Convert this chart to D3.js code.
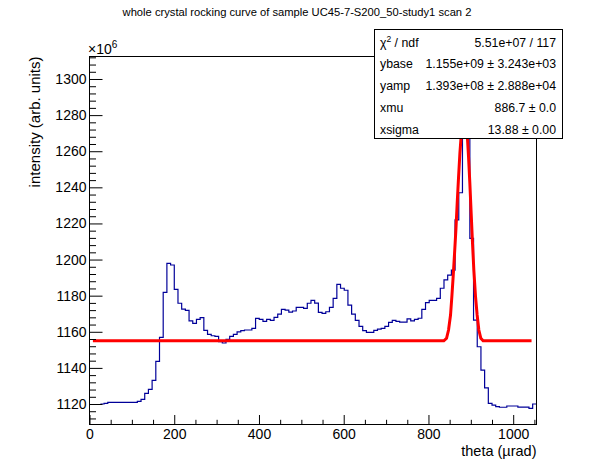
<!DOCTYPE html>
<html>
	<head>
		<meta charset="utf-8">
		<script src="https://d3js.org/d3.v7.min.js"></script>
		<style>
			body { margin: 0; background: #fff; }
			text { font-family: "Liberation Sans", Arial, Helvetica, sans-serif; }
		</style>
	</head>
	<body>
		<script>
			// histogram: 118 bins, contents in units of 1e6
			var thetaLow = 25.7, binWidth = 8.72;
			var counts = [
				1120.0, 1120.4, 1120.9, 1120.9, 1120.9, 1120.9, 1120.9, 1120.9, 1120.9, 1120.9,
				1121.5, 1122.6, 1125.9, 1128.1, 1133.1, 1143.6, 1156.9, 1181.8, 1197.9, 1197.0,
				1183.5, 1175.8, 1172.6, 1171.9, 1166.0, 1164.7, 1166.9, 1167.8, 1160.8, 1158.6,
				1157.8, 1157.5, 1154.5, 1153.8, 1155.8, 1157.5, 1158.6, 1159.9, 1160.6, 1161.0,
				1161.0, 1161.9, 1167.4, 1166.9, 1165.8, 1166.9, 1166.3, 1168.0, 1169.8, 1172.4,
				1172.0, 1170.9, 1171.5, 1173.5, 1173.5, 1173.0, 1175.8, 1177.4, 1175.9, 1170.8,
				1170.2, 1171.1, 1173.5, 1178.5, 1186.3, 1184.1, 1183.0, 1174.8, 1169.8, 1166.3,
				1163.0, 1160.6, 1159.7, 1159.7, 1160.8, 1161.5, 1161.9, 1163.0, 1165.2, 1166.3,
				1165.8, 1165.4, 1165.4, 1167.1, 1166.0, 1166.9, 1167.5, 1172.4, 1176.1, 1177.4,
				1177.4, 1178.5, 1184.1, 1188.7, 1191.4, 1194.2, 1222.0, 1237.0, 1290.0, 1282.0,
				1211.7, 1166.5, 1151.7, 1138.8, 1128.9, 1120.4, 1119.4, 1118.6, 1118.2, 1118.2,
				1118.9, 1118.9, 1118.9, 1118.3, 1118.3, 1118.3, 1117.6, 1120.0
			];

			// fitted curve, points
			var fitTheta = [8.0, 836.3, 842.7, 847.4, 852.1, 855.2, 858.3, 861.6, 864.7, 867.8,
				871.1, 874.2, 876.6, 882.0, 887.0, 891.0, 892.2, 894.6, 897.7, 900.8,
				904.0, 907.1, 911.1, 914.9, 918.9, 923.6, 929.0, 1043.3];
			var fitValue = [1155.0, 1155.0, 1156.4, 1161.0, 1169.3, 1179.4, 1190.5, 1203.4, 1216.3, 1231.1,
				1245.9, 1258.8, 1266.6, 1289.0, 1294.3, 1290.0, 1266.6, 1256.9, 1242.2, 1225.6,
				1209.0, 1194.2, 1179.4, 1169.3, 1161.0, 1156.4, 1155.0, 1155.0];

			var xTicks = [0, 200, 400, 600, 800, 1000];
			var yTicks = [1120, 1140, 1160, 1180, 1200, 1220, 1240, 1260, 1280, 1300];

			var statNames = ["χ2 / ndf", "ybase", "yamp", "xmu", "xsigma"];
			var statValues = ["5.51e+07 / 117", "1.155e+09 ± 3.243e+03", "1.393e+08 ± 2.888e+04",
				"886.7 ± 0.0", "13.88 ± 0.00"];

			var titleText = "whole crystal rocking curve of sample UC45-7-S200_50-study1 scan 2";

			var width = 596, height = 472;
			var frameL = 89.5, frameR = 536.5, frameT = 56.5, frameB = 424.5;

			var svg = d3.select("body").append("svg")
				.attr("width", width)
				.attr("height", height);

			svg.append("rect").attr("width", width).attr("height", height).attr("fill", "#fff");

			var x = d3.scaleLinear().domain([0, 1055]).range([frameL, frameR]);
			var y = d3.scaleLinear().domain([1108.65, 1312.46]).range([frameB, frameT]);

			svg.append("defs").append("clipPath").attr("id", "frame")
				.append("rect")
				.attr("x", frameL).attr("y", frameT)
				.attr("width", frameR - frameL).attr("height", frameB - frameT);

			var plot = svg.append("g").attr("clip-path", "url(#frame)");

			// histogram as a step line
			var steps = [];
			counts.forEach(function(c, i){
				steps.push([thetaLow + i * binWidth, c]);
				steps.push([thetaLow + (i + 1) * binWidth, c]);
			});
			var line = d3.line().x(function(d){ return x(d[0]); }).y(function(d){ return y(d[1]); });

			plot.append("path")
				.attr("d", line(steps))
				.attr("fill", "none")
				.attr("stroke", "#000099")
				.attr("stroke-width", 1.2);

			plot.append("path")
				.attr("d", line(fitTheta.map(function(t, i){ return [t, fitValue[i]]; })))
				.attr("fill", "none")
				.attr("stroke", "#ff0000")
				.attr("stroke-width", 3);

			// frame
			svg.append("rect")
				.attr("x", frameL).attr("y", frameT)
				.attr("width", frameR - frameL).attr("height", frameB - frameT)
				.attr("fill", "none").attr("stroke", "#000").attr("stroke-width", 1);

			// axes, ticks pointing inside like ROOT
			var yMinor = d3.range(1112, 1313, 4).filter(function(v){ return v % 20 !== 0; });
			var xMinor = d3.range(50, 1055, 50).filter(function(v){ return v % 200 !== 0; });

			svg.append("g").attr("transform", "translate(" + frameL + ",0)")
				.call(d3.axisLeft(y).tickValues(yTicks).tickSize(-13).tickPadding(3).tickFormat(d3.format("d")));
			svg.append("g").attr("transform", "translate(" + frameL + ",0)")
				.call(d3.axisLeft(y).tickValues(yMinor).tickSize(-6.5).tickFormat(""));

			svg.append("g").attr("transform", "translate(0," + frameB + ")")
				.call(d3.axisBottom(x).tickValues(xTicks).tickSize(-9.5).tickPadding(5).tickFormat(d3.format("d")));
			svg.append("g").attr("transform", "translate(0," + frameB + ")")
				.call(d3.axisBottom(x).tickValues(xMinor).tickSize(-4.7).tickFormat(""));

			svg.selectAll(".domain").remove();
			svg.selectAll(".tick line").attr("stroke", "#000");
			svg.selectAll(".tick text").attr("font-size", 14).attr("fill", "#000")
				.style("font-family", "'Liberation Sans', Arial, sans-serif");

			// exponent marker
			var expo = svg.append("text").attr("x", 88).attr("y", 54).attr("font-size", 14);
			expo.append("tspan").text("×10");
			expo.append("tspan").attr("dy", -6).attr("font-size", 10).text("6");

			// axis titles
			svg.append("text")
				.attr("x", frameR).attr("y", 456)
				.attr("text-anchor", "end")
				.attr("font-size", 14.5)
				.text("theta (µrad)");

			svg.append("text")
				.attr("transform", "translate(39.5," + frameT + ") rotate(-90)")
				.attr("text-anchor", "end")
				.attr("font-size", 15)
				.text("intensity (arb. units)");

			// title
			svg.append("text")
				.attr("x", 297).attr("y", 16)
				.attr("text-anchor", "middle")
				.attr("font-size", 11.2)
				.text(titleText);

			// stats box
			var box = svg.append("g");
			box.append("rect")
				.attr("x", 374.5).attr("y", 29.5)
				.attr("width", 188).attr("height", 109)
				.attr("fill", "#fff").attr("stroke", "#000").attr("stroke-width", 1);

			statNames.forEach(function(n, i){
				var by = 46.5 + i * 21.9;
				var t = box.append("text").attr("x", 380).attr("y", by).attr("font-size", 12.3);
				if(i === 0){
					t.append("tspan").text("χ");
					t.append("tspan").attr("dy", -5).attr("font-size", 8.5).text("2");
					t.append("tspan").attr("dy", 5).text(" / ndf");
				} else {
					t.text(n);
				}
				box.append("text")
					.attr("x", 556).attr("y", by)
					.attr("text-anchor", "end")
					.attr("font-size", 12.3)
					.text(statValues[i]);
			});
		</script>
	</body>
</html>
